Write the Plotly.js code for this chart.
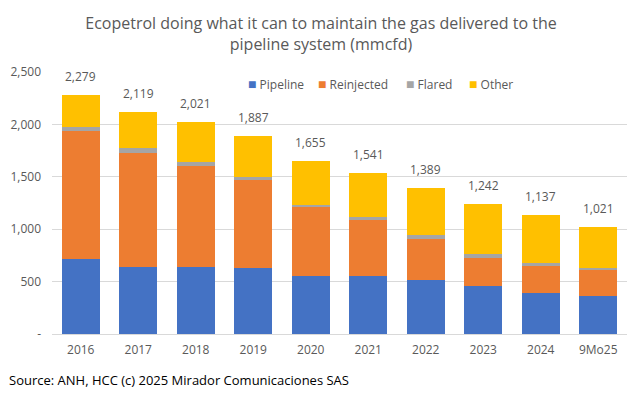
<!DOCTYPE html>
<html>
<head>
<meta charset="utf-8">
<script src="https://cdn.plot.ly/plotly-3.0.1.min.js"></script>
<style>html,body{margin:0;padding:0;background:#fff;}#chart{width:642px;height:396px;}</style>
</head>
<body>
<div id="chart"></div>
<script>
const categories = ["2016","2017","2018","2019","2020","2021","2022","2023","2024","9Mo25"];
const pipeline   = [717, 643, 643, 627, 557, 557, 519, 455, 389, 360];
const reinjected = [1216, 1086, 959, 841, 653, 532, 386, 274, 264, 251];
const flared     = [39, 42, 38, 32, 23, 26, 35, 35, 25, 20];
const other      = [307, 348, 381, 387, 422, 426, 449, 478, 459, 390];
const totals     = [2279, 2119, 2021, 1887, 1655, 1541, 1389, 1242, 1137, 1021];
const seriesNames  = ["Pipeline", "Reinjected", "Flared", "Other"];
const seriesColors = ["#4472C4", "#ED7D31", "#A5A5A5", "#FFC000"];
const yTickVals  = [0, 500, 1000, 1500, 2000, 2500];
const yTickText  = ["-", "500", "1,000", "1,500", "2,000", "2,500"];

const font = "Open Sans, sans-serif";
const gray = "#595959";
const values = [pipeline, reinjected, flared, other];

const data = seriesNames.map((n, k) => ({
  type: "bar", name: n, x: categories, y: values[k],
  marker: {color: seriesColors[k]}, hoverinfo: "y+name"
}));

const annotations = categories.map((c, i) => ({
  x: i, y: totals[i], xref: "x", yref: "y",
  text: totals[i].toLocaleString("en-US"),
  showarrow: false, yanchor: "bottom", yshift: 8,
  font: {family: font, size: 12, color: gray}
}));
// compact legend drawn as text items
const legendX = [246, 316, 404, 467];
seriesNames.forEach((n, k) => {
  annotations.push({
    x: legendX[k], y: 83, xref: "paper", yref: "paper", showarrow: false,
    xanchor: "left", yanchor: "middle",
    text: '<span style="color:' + seriesColors[k] + ';font-size:14px">■</span>\u00a0' + n,
    font: {family: font, size: 12, color: gray}
  });
});
annotations.push({
  x: 0, y: 0, xref: "paper", yref: "paper", xanchor: "left", yanchor: "middle",
  xshift: -45, yshift: -46,
  text: "Source: ANH, HCC (c) 2025 Mirador Comunicaciones SAS",
  showarrow: false, font: {family: font, size: 13, color: "#000"}
});
// convert legend pixel positions to paper fractions
const L = 52, R = 15, T = 72, B = 62, W = 642, H = 396;
annotations.forEach(a => {
  if (a.xref === "paper" && a.x > 1) {
    a.x = (a.x - L) / (W - L - R);
    a.y = 1 - (a.y - T) / (H - T - B);
  }
});

const layout = {
  width: W, height: H,
  margin: {l: L, r: R, t: T, b: B},
  paper_bgcolor: "#fff", plot_bgcolor: "#fff",
  barmode: "stack", bargap: 0.34,
  title: {
    text: "Ecopetrol doing what it can to maintain the gas delivered to the<br>pipeline system (mmcfd)",
    font: {family: font, size: 16, color: gray},
    x: 0.5, xanchor: "center", xref: "container", yref: "container", y: 0.927, yanchor: "top"
  },
  showlegend: false,
  xaxis: {
    type: "category", range: [-0.5, 9.5], autorange: false,
    tickfont: {family: font, size: 12, color: gray},
    showline: true, linecolor: "#D9D9D9", linewidth: 1, ticks: "", showgrid: false,
    ticklabelstandoff: 5
  },
  yaxis: {
    range: [0, 2500], autorange: false, tickvals: yTickVals, ticktext: yTickText,
    tickfont: {family: font, size: 12, color: gray},
    gridcolor: "#D9D9D9", gridwidth: 1, zeroline: false, ticks: "", ticklabelstandoff: 10
  },
  annotations: annotations
};

Plotly.newPlot("chart", data, layout, {displayModeBar: false, staticPlot: true});
</script>
</body>
</html>
